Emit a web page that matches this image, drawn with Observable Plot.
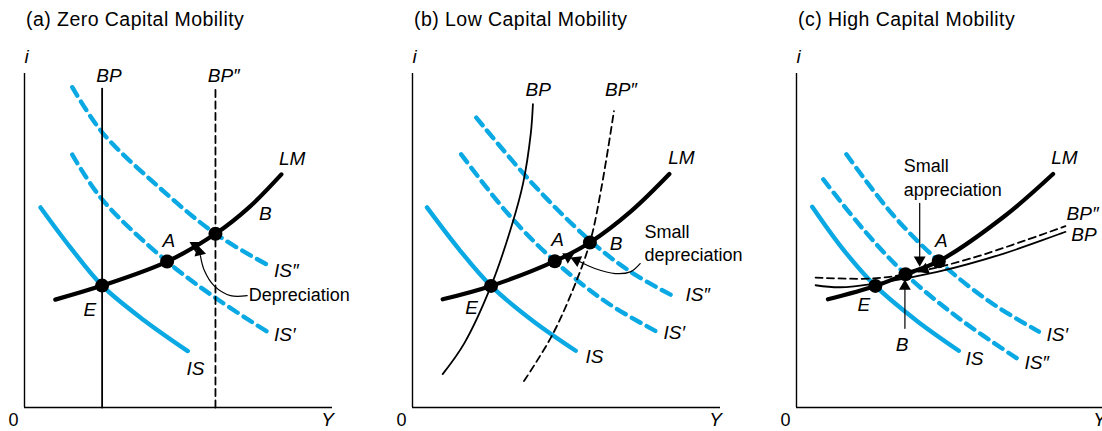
<!DOCTYPE html>
<html><head><meta charset="utf-8">
<script src="https://cdn.jsdelivr.net/npm/d3@7"></script>
<script src="https://cdn.jsdelivr.net/npm/@observablehq/plot@0.6"></script>
<style>
body{margin:0;width:1102px;height:431px;overflow:hidden;background:#fff;font-family:"Liberation Sans",Arial,sans-serif;position:relative}
.panel{position:absolute;top:0;width:388px;height:431px;overflow:hidden}
.title{height:40px;box-sizing:border-box;padding-left:26px;padding-top:8px;font-size:19.5px;letter-spacing:0.45px;color:#000;white-space:nowrap}
</style></head><body>
<script>
// ---- Titles ----
const titles = ["(a) Zero Capital Mobility", "(b) Low Capital Mobility", "(c) High Capital Mobility"];

// ---- Panel (a): zero capital mobility ----
const aBP   = [[2.52,0],[2.52,9.55]];
const aBP2  = [[6.2,0],[6.2,9.55]];
const aLM   = [[1.0,3.23],[2.52,3.65],[4.63,4.37],[6.2,5.2],[7.3,6.0],[8.34,6.98]];
const aIS   = [[0.52,5.99],[1.5,4.78],[2.52,3.65],[3.9,2.6],[5.3,1.69]];
const aIS1  = [[1.55,7.57],[2.52,6.23],[4.63,4.37],[6.3,3.22],[7.93,2.24]];
const aIS2  = [[1.55,9.59],[2.52,8.24],[4.3,6.65],[6.2,5.2],[7.93,4.25]];
const aPts  = [[2.52,3.65],[4.63,4.37],[6.2,5.2]];
const aNote = [[7.23,3.35],[6.69,3.35],[6.15,3.65],[5.84,4.1],[5.71,4.55]];
const aHeads = [[5.68,4.66,-14],[5.55,4.85,60]];
const aLabels = [
  [2.74,9.94,"BP","middle",true],[6.47,9.94,"BP″","middle",true],[8.69,7.45,"LM","middle",true],
  [7.82,5.8,"B","middle",true],[4.69,5.0,"A","middle",true],[2.12,2.92,"E","middle",true],
  [8.1,4.1,"IS″","start",true],[8.1,2.16,"IS′","start",true],[5.26,1.16,"IS","start",true],
  [7.28,3.35,"Depreciation","start",false]
];

// ---- Panel (b): low capital mobility ----
const bBP   = [[0.98,1.0],[1.68,1.92],[2.55,3.64],[3.21,5.41],[3.59,6.71],[3.84,8.2],[3.91,9.08]];
const bBP2  = [[3.62,0.79],[4.51,2.12],[5.2,3.51],[5.76,4.94],[6.14,6.61],[6.54,8.87]];
const bLM   = [[0.98,3.24],[2.55,3.64],[4.62,4.38],[5.76,4.94],[7.1,5.88],[8.34,6.99]];
const bIS   = [[0.47,5.99],[1.5,4.75],[2.55,3.64],[3.9,2.6],[5.3,1.7]];
const bIS1  = [[1.58,7.58],[3.1,5.8],[4.62,4.38],[6.3,3.15],[7.93,2.27]];
const bIS2  = [[2.07,8.68],[3.9,6.7],[5.76,5.0],[7.1,4.05],[8.42,3.36]];
const bPts  = [[2.55,3.64],[4.62,4.38],[5.76,4.94]];
const bNote = [[7.39,4.31],[7.07,4.06],[6.58,4.01],[5.92,4.16],[5.42,4.37]];
const bHeads = [[5.33,4.41,-66],[5.05,4.51,62]];
const bLabels = [
  [4.08,9.52,"BP","middle",true],[6.77,9.52,"BP″","middle",true],[8.73,7.46,"LM","middle",true],
  [4.71,5.01,"A","middle",true],[6.61,4.91,"B","middle",true],[1.92,2.99,"E","middle",true],
  [8.86,3.36,"IS″","start",true],[8.15,2.22,"IS′","start",true],[5.62,1.5,"IS","start",true],
  [7.53,5.26,"Small","start",false],[7.53,4.56,"depreciation","start",false]
];

// ---- Panel (c): high capital mobility ----
const cBP   = [[0.62,3.66],[1.4,3.6],[2.56,3.71],[4.57,4.06],[6.73,4.61],[8.73,5.26]];
const cBP2  = [[0.62,3.89],[2.4,3.86],[3.54,3.99],[5.65,4.46],[8.73,5.43]];
const cLM   = [[1.02,3.24],[2.56,3.64],[3.54,3.99],[4.62,4.38],[6.73,5.71],[8.33,6.99]];
const cIS   = [[0.51,6.01],[1.5,4.75],[2.56,3.64],[3.9,2.6],[5.27,1.7]];
const cIS2  = [[0.87,6.83],[2.2,5.3],[3.54,3.99],[5.3,2.65],[7.16,1.47]];
const cIS1  = [[1.62,7.58],[3.1,5.8],[4.62,4.38],[6.3,3.15],[7.87,2.27]];
const cPts  = [[2.56,3.64],[3.54,3.99],[4.62,4.38]];
const cNote1 = [[4.0,6.11],[4.0,4.5]];
const cNote2 = [[3.52,2.37],[3.52,3.55]];
const cHeads = [[4.0,4.42,180],[3.52,3.63,0],[4.16,4.13,-111]];
const cLabels = [
  [3.48,7.21,"Small","start",false],[3.48,6.49,"appreciation","start",false],
  [4.7,4.99,"A","middle",true],[8.7,7.46,"LM","middle",true],
  [8.77,5.81,"BP″","start",true],[8.92,5.16,"BP","start",true],
  [2.19,3.06,"E","middle",true],[3.43,1.87,"B","middle",true],
  [8.12,2.17,"IS′","start",true],[7.4,1.34,"IS″","start",true],[5.49,1.44,"IS","start",true]
];

// ---- Axis labels ----
const axisLabels = [[0.07,10.5,"i",true],[-0.36,-0.37,"0",false],[9.84,-0.38,"Y",true]];

const BLUE = "#0aa9e4";
const FONT = "'Liberation Sans', Arial, sans-serif";

function panel(p) {
  const X = d => d[0], Y = d => d[1];
  const line = (data, o) => Plot.line(data, {x: X, y: Y, curve: "catmull-rom", ...o});
  const labels = p.labels.concat(axisLabels.map(d => [d[0], d[1], d[2], "middle", d[3]]));
  const textGroup = (anchor, italic) => Plot.text(
    labels.filter(d => d[3] === anchor && d[4] === italic),
    {x: X, y: Y, text: d => d[2], textAnchor: anchor, fontStyle: italic ? "italic" : "normal",
     fontSize: italic ? 19 : 18, fill: "#000", fontFamily: FONT});
  const marks = [
    Plot.ruleX([0], {y1: 0, y2: 10, stroke: "#000", strokeWidth: 1.4}),
    Plot.ruleY([0], {x1: 0, x2: 10, stroke: "#000", strokeWidth: 1.4}),
    line(p.IS, {stroke: BLUE, strokeWidth: 4.4}),
    line(p.IS1, {stroke: BLUE, strokeWidth: 4.4, strokeDasharray: "10,7"}),
    line(p.IS2, {stroke: BLUE, strokeWidth: 4.4, strokeDasharray: "10,7"}),
    line(p.BP, {stroke: "#000", strokeWidth: 1.8}),
    line(p.BP2, {stroke: "#000", strokeWidth: 1.8, strokeDasharray: "7,4.5"}),
    line(p.LM, {stroke: "#000", strokeWidth: 4.2}),
    ...p.notes.map(n => line(n, {stroke: "#000", strokeWidth: 1.2})),
    Plot.dot(p.pts, {x: X, y: Y, r: 7, fill: "#000"}),
    Plot.dot(p.heads, {x: X, y: Y, symbol: "triangle", r: 4.4, fill: "#000", rotate: d => d[2]}),
    textGroup("middle", true),
    textGroup("start", true),
    textGroup("start", false),
    textGroup("middle", false)
  ];
  return Plot.plot({
    width: 388, height: 391,
    marginLeft: 24, marginRight: 56, marginTop: 33, marginBottom: 24,
    x: {domain: [0, 10], axis: null},
    y: {domain: [0, 10], axis: null},
    style: {fontFamily: FONT, overflow: "visible", background: "transparent"},
    marks
  });
}

const panels = [
  {left: 0,   IS: aIS, IS1: aIS1, IS2: aIS2, BP: aBP, BP2: aBP2, LM: aLM, pts: aPts, notes: [aNote], heads: aHeads, labels: aLabels},
  {left: 388, IS: bIS, IS1: bIS1, IS2: bIS2, BP: bBP, BP2: bBP2, LM: bLM, pts: bPts, notes: [bNote], heads: bHeads, labels: bLabels},
  {left: 772, IS: cIS, IS1: cIS1, IS2: cIS2, BP: cBP, BP2: cBP2, LM: cLM, pts: cPts, notes: [cNote1, cNote2], heads: cHeads, labels: cLabels}
];

panels.forEach((p, i) => {
  const div = document.createElement("div");
  div.className = "panel";
  div.style.left = p.left + "px";
  const t = document.createElement("div");
  t.className = "title";
  t.textContent = titles[i];
  div.appendChild(t);
  div.appendChild(panel(p));
  document.body.appendChild(div);
});
</script>
</body></html>
